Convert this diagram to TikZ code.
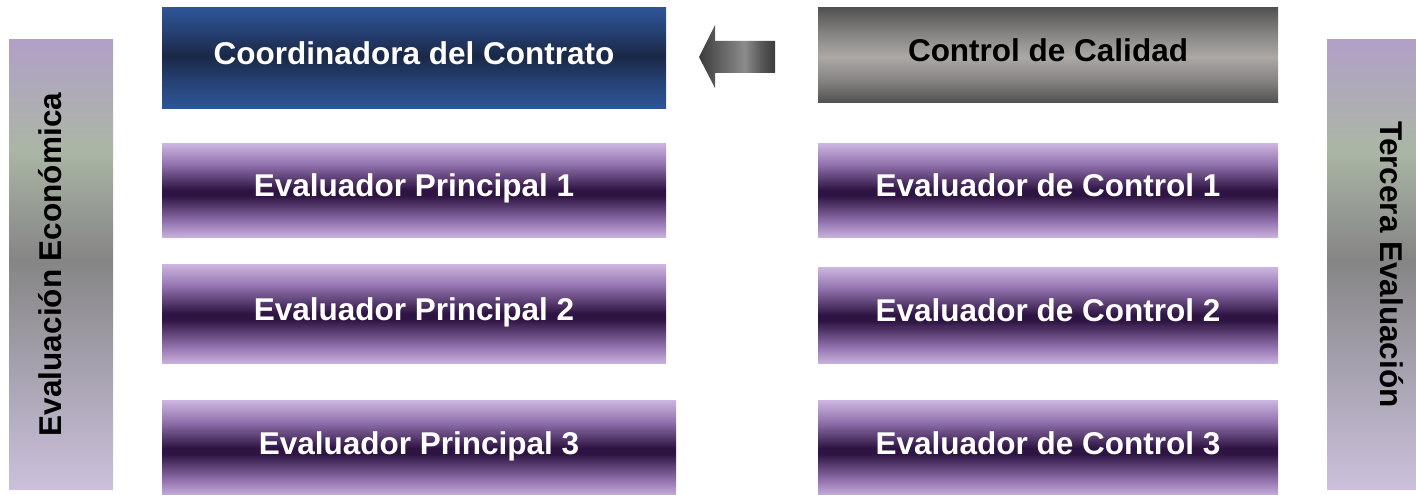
\documentclass[tikz,border=0pt]{standalone}
\usepackage{fontspec}
\setmainfont{Liberation Sans}

\definecolor{lavtop}{RGB}{205,182,224}
\definecolor{lavmid}{RGB}{148,116,176}
\definecolor{lavdark}{RGB}{46,20,66}
\definecolor{lavbot}{RGB}{200,176,220}
\definecolor{navyedge}{RGB}{46,85,150}
\definecolor{navymid}{RGB}{38,66,118}
\definecolor{navydark}{RGB}{26,40,70}
\definecolor{greyedge}{RGB}{82,82,82}
\definecolor{greymid}{RGB}{132,130,128}
\definecolor{greylight}{RGB}{172,168,165}
\definecolor{bartop}{RGB}{178,160,200}
\definecolor{bargreen}{RGB}{170,182,165}
\definecolor{bargrey}{RGB}{133,133,133}
\definecolor{barbot}{RGB}{203,192,220}
\definecolor{arrowdark}{RGB}{60,60,60}
\definecolor{arrowmid}{RGB}{88,88,88}
\definecolor{arrowlight}{RGB}{140,140,140}

\pgfdeclareverticalshading{purpleshade}{100bp}{color(0bp)=(lavbot); color(25bp)=(lavbot);
  color(33bp)=(lavmid); color(47bp)=(lavdark); color(50bp)=(lavdark);
  color(64bp)=(lavmid); color(75bp)=(lavtop); color(100bp)=(lavtop)}
\pgfdeclareverticalshading{navyshade}{100bp}{color(0bp)=(navyedge); color(25bp)=(navyedge);
  color(38bp)=(navymid); color(51bp)=(navydark); color(64bp)=(navymid);
  color(75bp)=(navyedge); color(100bp)=(navyedge)}
\pgfdeclareverticalshading{greyshade}{100bp}{color(0bp)=(greyedge); color(25bp)=(greyedge);
  color(36bp)=(greymid); color(49bp)=(greylight); color(62bp)=(greymid);
  color(75bp)=(greyedge); color(100bp)=(greyedge)}
\pgfdeclareverticalshading{barshade}{100bp}{color(0bp)=(barbot); color(25bp)=(barbot);
  color(50.5bp)=(bargrey); color(62.75bp)=(bargreen); color(75bp)=(bartop);
  color(100bp)=(bartop)}
\pgfdeclarehorizontalshading{arrowshade}{100bp}{color(0bp)=(arrowdark); color(25bp)=(arrowdark);
  color(35.5bp)=(arrowmid); color(55bp)=(arrowlight); color(66bp)=(arrowmid);
  color(75bp)=(arrowdark); color(100bp)=(arrowdark)}

\begin{document}
\begin{tikzpicture}[
    x = 1pt, y = -1pt,
    box/.style = {rectangle, inner sep = 0pt, text height = 23pt, text depth = 10pt,
        font = \bfseries\fontsize{31.5}{36}\selectfont},
    evalbox/.style = {box, shading = purpleshade, text = white},
    sidebar/.style = {rectangle, inner sep = 0pt, shading = barshade,
        minimum width = 104pt, minimum height = 449pt},
    sidetext/.style = {inner sep = 0pt, text height = 23pt, text depth = 0pt,
        font = \bfseries\fontsize{31.5}{36}\selectfont}]

\path[use as bounding box, clip] (0,0) rectangle (1416,495);

\node[sidebar] (econbar) at (61,264.5) {};
\node[sidetext, rotate = 90] (econtext) at ([xshift = -11.5pt]econbar.center) {Evaluación Económica};
\node[sidebar] (terbar) at (1379,264.5) {};
\node[sidetext, rotate = -90] (tertext) at ([xshift = 12.5pt]terbar.center) {Tercera Evaluación};

\node[box, shading = navyshade, text = white, minimum width = 504pt, minimum height = 100pt]
    (coord) at (414,58) {Coordinadora del Contrato};
\node[box, shading = greyshade, text = black, minimum width = 460pt, minimum height = 94pt]
    (calidad) at (1048,55) {Control de Calidad};

\path[shade, shading = arrowshade] (775,41) -- (715,41) -- (715,25) -- (699,57)
    -- (715,88) -- (715,73) -- (775,73) -- cycle;

\node[evalbox, minimum width = 504pt, minimum height = 94pt] (princ1) at (414,190) {Evaluador Principal 1};
\node[evalbox, minimum width = 504pt, minimum height = 99pt] (princ2) at (414,313.5) {Evaluador Principal 2};
\node[evalbox, minimum width = 514pt, minimum height = 96pt] (princ3) at (419,448) {Evaluador Principal 3};

\node[evalbox, minimum width = 460pt, minimum height = 94pt] (ctrl1) at (1048,190) {Evaluador de Control 1};
\node[evalbox, minimum width = 460pt, minimum height = 96pt] (ctrl2) at (1048,315) {Evaluador de Control 2};
\node[evalbox, minimum width = 460pt, minimum height = 96pt] (ctrl3) at (1048,448) {Evaluador de Control 3};
\end{tikzpicture}
\end{document}
